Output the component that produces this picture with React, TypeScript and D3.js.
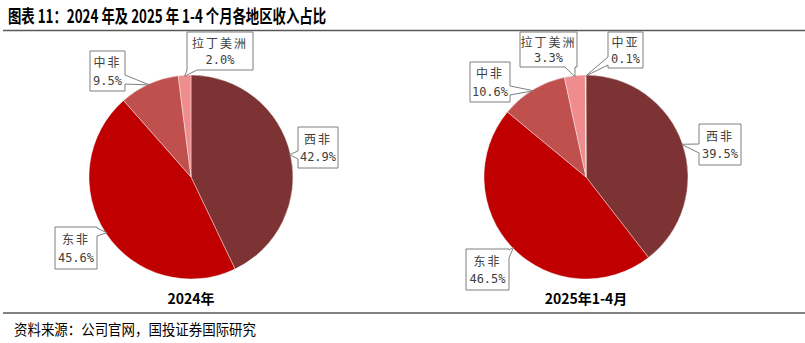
import React from "react";
import * as d3 from "d3";

const regions2024 = ["西非", "东非", "中非", "拉丁美洲"];
const values2024 = [42.9, 45.6, 9.5, 2.0];
const regions2025 = ["西非", "东非", "中非", "拉丁美洲", "中亚"];
const values2025 = [39.5, 46.5, 10.6, 3.3, 0.1];
const chartTitles = ["2024年", "2025年1-4月"];

const colorMap: Record<string, string> = {
  西非: "#7D3333",
  东非: "#C00000",
  中非: "#C0504D",
  拉丁美洲: "#EE8C8E",
  中亚: "#F6B8B8",
};

type Side = "left" | "right" | "top" | "bottom";
interface BoxLayout { x: number; y: number; w: number; h: number; side: Side; t: number; tw: number }

const layout2024: Record<string, BoxLayout> = {
  西非: { x: 298, y: 127, w: 40, h: 41, side: "left", t: 24, tw: 8 },
  东非: { x: 55, y: 227, w: 42, h: 42, side: "right", t: 1, tw: 8 },
  中非: { x: 90, y: 51, w: 35, h: 40, side: "right", t: 24, tw: 9 },
  拉丁美洲: { x: 187, y: 32, w: 66, h: 38, side: "bottom", t: 0, tw: 10 },
};
const layout2025: Record<string, BoxLayout> = {
  西非: { x: 699, y: 124, w: 42, h: 41, side: "left", t: 20, tw: 9 },
  东非: { x: 466, y: 249, w: 43, h: 41, side: "right", t: 1, tw: 8 },
  中非: { x: 470, y: 62, w: 40, h: 40, side: "right", t: 24, tw: 9 },
  拉丁美洲: { x: 520, y: 32, w: 57, h: 35, side: "bottom", t: 45, tw: 10 },
  中亚: { x: 608, y: 32, w: 35, h: 36, side: "left", t: 25, tw: 8 },
};

function calloutPath(b: BoxLayout, ax: number, ay: number) {
  const { x, y, w, h, side, t, tw } = b;
  const p: string[] = [`M${x},${y}`];
  if (side === "top") p.push(`L${x + t},${y}`, `L${ax},${ay}`, `L${x + t + tw},${y}`);
  p.push(`L${x + w},${y}`);
  if (side === "right") p.push(`L${x + w},${y + t}`, `L${ax},${ay}`, `L${x + w},${y + t + tw}`);
  p.push(`L${x + w},${y + h}`);
  if (side === "bottom") p.push(`L${x + t + tw},${y + h}`, `L${ax},${ay}`, `L${x + t},${y + h}`);
  p.push(`L${x},${y + h}`);
  if (side === "left") p.push(`L${x},${y + t + tw}`, `L${ax},${ay}`, `L${x},${y + t}`);
  p.push("Z");
  return p.join(" ");
}

function Pie({ cx, cy, r, names, values, lay, title }: {
  cx: number; cy: number; r: number; names: string[]; values: number[];
  lay: Record<string, BoxLayout>; title: string;
}) {
  const data = names.map((n, i) => ({ name: n, value: values[i] }));
  const pie = d3.pie<{ name: string; value: number }>().sort(null).value((d) => d.value);
  const arcs = pie(data);
  const arc = d3.arc<d3.PieArcDatum<{ name: string; value: number }>>().innerRadius(0).outerRadius(r);
  return (
    <g>
      <g transform={`translate(${cx},${cy})`}>
        {arcs.map((a) => (
          <path key={a.data.name} d={arc(a) || ""} fill={colorMap[a.data.name]} stroke="#fff" strokeWidth={0.4} />
        ))}
      </g>
      {arcs.map((a) => {
        const mid = (a.startAngle + a.endAngle) / 2;
        const ax = cx + (r - 1) * Math.sin(mid);
        const ay = cy - (r - 1) * Math.cos(mid);
        const b = lay[a.data.name];
        const tx = b.x + b.w / 2;
        return (
          <g key={a.data.name + "l"}>
            <path d={calloutPath(b, ax, ay)} fill="#fff" stroke="#7F7F7F" strokeWidth={1} />
            <text x={tx} y={b.y + b.h * 0.27} textAnchor="middle" dominantBaseline="central"
              fontSize={12} letterSpacing={2} fill="#404040" fontFamily="'Noto Sans CJK SC'">{a.data.name}</text>
            <text x={tx} y={b.y + b.h * 0.74} textAnchor="middle" dominantBaseline="central"
              fontSize={12} fill="#404040" fontFamily="'DejaVu Sans Mono', monospace">{a.data.value.toFixed(1)}%</text>
          </g>
        );
      })}
      <text x={cx} y={298} textAnchor="middle" dominantBaseline="central" fontSize={14} fontWeight="bold"
        fill="#000" fontFamily="'Noto Sans CJK SC'">{title}</text>
    </g>
  );
}

export default function App() {
  return (
    <svg width={805} height={343} style={{ position: "absolute", left: 0, top: 0, background: "#fff" }}>
      <rect x={0} y={0} width={805} height={343} fill="#fff" />
      <text x={8} y={15} dominantBaseline="central" fontSize={18} fontWeight="bold" fill="#000"
        fontFamily="'Noto Sans CJK SC'" textLength={318} lengthAdjust="spacingAndGlyphs">
        图表 11：2024 年及 2025 年 1-4 个月各地区收入占比
      </text>
      <line x1={3} x2={805} y1={30.5} y2={30.5} stroke="#595959" strokeWidth={1.5} />
      <Pie cx={191} cy={177} r={102} names={regions2024} values={values2024} lay={layout2024} title={chartTitles[0]} />
      <Pie cx={586} cy={177} r={102} names={regions2025} values={values2025} lay={layout2025} title={chartTitles[1]} />
      <line x1={3} x2={805} y1={313} y2={313} stroke="#595959" strokeWidth={1.5} />
      <text x={14} y={328} dominantBaseline="central" fontSize={15} fill="#000"
        fontFamily="'Noto Sans CJK SC'" textLength={242} lengthAdjust="spacingAndGlyphs">
        资料来源：公司官网，国投证券国际研究
      </text>
    </svg>
  );
}
